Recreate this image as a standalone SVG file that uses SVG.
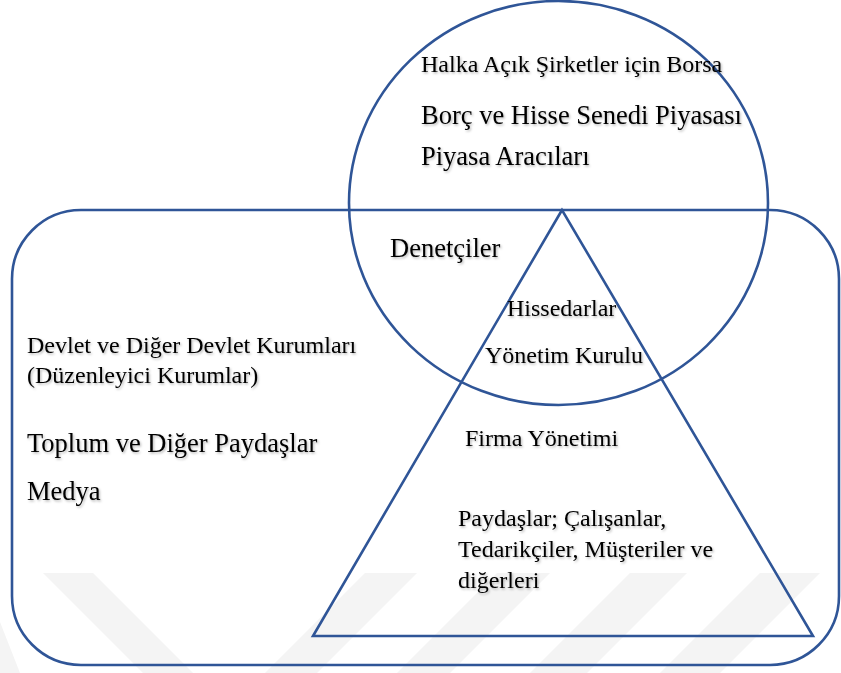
<svg xmlns="http://www.w3.org/2000/svg" width="841" height="673" viewBox="0 0 841 673">
<style>
.wm{fill:#f4f4f4;stroke:none}
.sh{fill:none;stroke:#2f5597;stroke-width:2.6}
text{font-family:"Liberation Serif","Times New Roman",serif;fill:#000;filter:url(#ts)}
.s{font-size:24px}
.l{font-size:26.5px}
</style>
<defs>
<filter id="ts" x="-5%" y="-20%" width="110%" height="150%">
<feDropShadow dx="1.2" dy="1.5" stdDeviation="0.9" flood-color="#000" flood-opacity="0.28"/>
</filter>
</defs>
<rect width="841" height="673" fill="#fff"/>
<g id="watermark">
<polygon class="wm" points="43,573 93,573 193,673 143,673"/>
<polygon class="wm" points="0,622 0,673 20,673"/>
<polygon class="wm" points="365,573 417,573 317,673 265,673"/>
<polygon class="wm" points="497,573 550,573 450,673 397,673"/>
<polygon class="wm" points="630,573 687,573 587,673 530,673"/>
<polygon class="wm" points="760,573 820,573 720,673 660,673"/>
</g>
<g id="environment">
<rect class="sh" x="12" y="210" width="827" height="455" rx="69" ry="69"/>
</g>
<g id="market">
<ellipse class="sh" cx="558.5" cy="203" rx="209.5" ry="202"/>
</g>
<g id="firm">
<polygon class="sh" points="562,210 313,636 813,636"/>
</g>
<g id="labels-market">
<text class="s" x="421" y="72">Halka Açık Şirketler için Borsa</text>
<text class="l" x="421" y="124">Borç ve Hisse Senedi Piyasası</text>
<text class="l" x="421" y="165">Piyasa Aracıları</text>
<text class="l" x="390" y="257">Denetçiler</text>
</g>
<g id="labels-env">
<text class="s" x="27" y="353">Devlet ve Diğer Devlet Kurumları</text>
<text class="s" x="27" y="383">(Düzenleyici Kurumlar)</text>
<text class="l" x="27" y="452">Toplum ve Diğer Paydaşlar</text>
<text class="l" x="27" y="500">Medya</text>
</g>
<g id="labels-firm">
<text class="s" x="507" y="316">Hissedarlar</text>
<text class="s" x="485" y="363">Yönetim Kurulu</text>
<text class="s" x="465" y="446">Firma Yönetimi</text>
<text class="s" x="458" y="526">Paydaşlar; Çalışanlar,</text>
<text class="s" x="458" y="557">Tedarikçiler, Müşteriler ve</text>
<text class="s" x="458" y="588">diğerleri</text>
</g>
</svg>
